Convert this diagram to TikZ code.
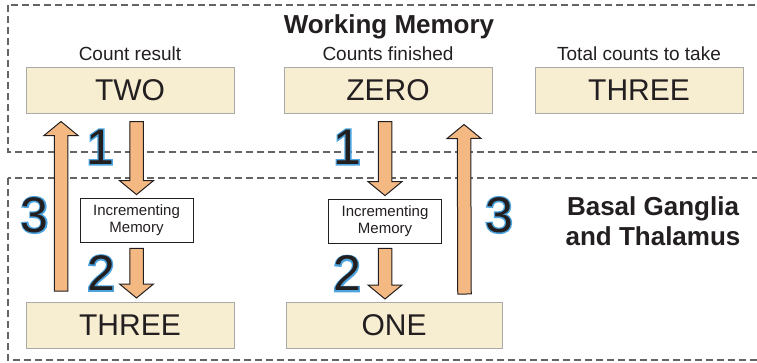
\documentclass[tikz,border=0pt]{standalone}
\usepackage{fontspec}
\setmainfont{Liberation Sans}
\usepackage{tikz}
\usetikzlibrary{positioning}
\usetikzlibrary{calc}
\definecolor{memfill}{RGB}{247,238,210}
\definecolor{memdraw}{RGB}{170,170,170}
\definecolor{arrowfill}{RGB}{244,185,130}
\definecolor{ink}{RGB}{35,31,32}
\definecolor{framegray}{RGB}{100,100,100}
% digit with a blue halo: stroked copy first, plain copy on top
\newcommand{\stepdigit}[1]{\special{pdf:literal direct 1 Tr 2.8 w 0.30 0.64 0.87 RG}\rlap{#1}\special{pdf:literal direct 0 Tr}#1}
\tikzstyle{membox}=[rectangle,fill=memfill,draw=memdraw,line width=1pt,minimum width=208pt,minimum height=46pt,inner sep=0pt,text=ink,font=\fontsize{30}{36}\selectfont]
\tikzstyle{incbox}=[rectangle,fill=white,draw=ink,line width=0.8pt,minimum width=113pt,minimum height=44pt,inner sep=0pt,align=center,text=ink,font=\fontsize{15}{17}\selectfont]
\tikzstyle{fatarrow}=[fill=arrowfill,draw=ink,line width=1pt,line join=miter]
\tikzstyle{region}=[draw=framegray,line width=1.2pt,dash pattern=on 7pt off 4pt]
\tikzstyle{slot}=[text=ink,font=\fontsize{19}{22}\selectfont,anchor=base,inner sep=0pt]
\tikzstyle{heading}=[text=ink,font=\bfseries\fontsize{26}{30}\selectfont,inner sep=0pt]
\tikzstyle{stepnum}=[text=ink,font=\fontsize{50}{60}\selectfont,inner sep=0pt]

\begin{document}
\begin{tikzpicture}[x=1pt,y=-1pt]
  \clip (0,0) rectangle (757,362);

  % the two regions
  \draw[region] (8,5) rectangle (790,152);
  \draw[region] (8,178) rectangle (790,360);
  \node[heading,anchor=base] (wm) at (389,33) {Working Memory};
  \node[heading,align=center] (bgt) at (653,221) {Basal Ganglia\\and Thalamus};

  % memory slots
  \foreach \pos/\name/\label in {{(130,90)/res/TWO}, {(388,90)/fin/ZERO}, {(639,90)/tot/THREE}, {(130,325.5)/out/THREE}}
     \node[membox] (\name) at \pos {\label};
  \node[membox,minimum width=216pt] (one) at (394,325.5) {ONE};

  \foreach \name/\label in {res/Count result, fin/Counts finished, tot/Total counts to take}
     \node[slot] (\name-lbl) at ($(\name.north)+(0,-6)$) {\label};

  \node[incbox] (inc1) at (136.5,220) {Incrementing\\Memory};
  \node[incbox] (inc2) at (385,221) {Incrementing\\Memory};

  % arrow ends
  \coordinate (a1s) at ($(res.south -| inc1)+(0,8)$);
  \coordinate (a1e) at ($(inc1.north)+(0,-3)$);
  \coordinate (a2s) at ($(inc1.south)+(0,6)$);
  \coordinate (a2e) at ($(out.north -| inc1)+(0,-4)$);
  \coordinate (a3s) at ($(out.north west)+(35.5,-11)$);
  \coordinate (a3e) at ($(res.south west)+(35.5,8)$);
  \coordinate (b1s) at ($(fin.south -| inc2)+(0,8)$);
  \coordinate (b1e) at ($(inc2.north)+(0,-3)$);
  \coordinate (b2s) at ($(inc2.south)+(0,5)$);
  \coordinate (b2e) at ($(one.north -| inc2)+(0,-3)$);
  \coordinate (b3s) at ($(one.north east)+(-38,-8)$);
  \coordinate (b3e) at ($(fin.south east)+(-28.5,11)$);

  \foreach \source/\dest in {a1s/a1e, a2s/a2e, a3s/a3e, b1s/b1e, b2s/b2e, b3s/b3e}{
     \coordinate (hb) at ($(\dest)!14pt!(\source)$);
     \path[fatarrow] ($(\source)!6.75pt!90:(\dest)$) -- ($(hb)!6.75pt!90:(\dest)$)
        -- ($(hb)!17pt!90:(\dest)$) -- (\dest) -- ($(hb)!17pt!-90:(\dest)$)
        -- ($(hb)!6.75pt!-90:(\dest)$) -- ($(\source)!6.75pt!-90:(\dest)$) -- cycle;
  }

  % step numbers
  \foreach \pos/\name/\label in {{(100,147)/n1a/1}, {(101,273)/n2a/2}, {(34.5,215)/n3a/3}, {(347,147)/n1b/1}, {(347,273.5)/n2b/2}, {(499,215)/n3b/3}}
     \node[stepnum] (\name) at \pos {\stepdigit{\label}};

\end{tikzpicture}
\end{document}
